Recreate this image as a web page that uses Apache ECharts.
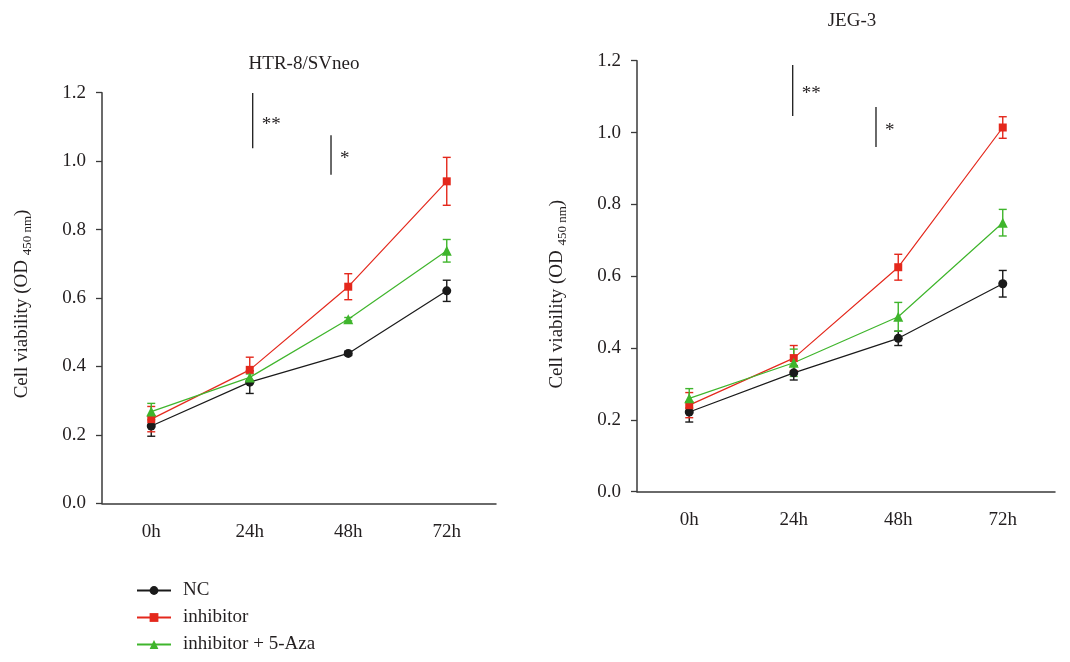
<!DOCTYPE html>
<html>
<head>
<meta charset="utf-8">
<script src="https://cdn.jsdelivr.net/npm/echarts@6/dist/echarts.min.js"></script>
<style>
html,body{margin:0;padding:0;background:#fff;}
#chart{width:1070px;height:662px;}
</style>
</head>
<body>
<div id="chart"></div>
<script>
// ---- data ----
const categories = ['0h', '24h', '48h', '72h'];
const seriesNames = ['NC', 'inhibitor', 'inhibitor + 5-Aza'];

const htrNC = [0.226, 0.354, 0.438, 0.621];
const htrNCErr = [0.030, 0.033, 0.006, 0.031];
const htrInh = [0.246, 0.390, 0.633, 0.941];
const htrInhErr = [0.037, 0.037, 0.038, 0.070];
const htrAza = [0.268, 0.368, 0.538, 0.738];
const htrAzaErr = [0.024, 0.010, 0.005, 0.033];

const jegNC = [0.222, 0.331, 0.427, 0.579];
const jegNCErr = [0.028, 0.020, 0.020, 0.037];
const jegInh = [0.241, 0.372, 0.625, 1.014];
const jegInhErr = [0.035, 0.035, 0.036, 0.030];
const jegAza = [0.260, 0.359, 0.487, 0.749];
const jegAzaErr = [0.027, 0.038, 0.040, 0.037];

// significance annotations: [x position (category units), top, bottom]
const htrSig = [[1.03, 1.199, 1.038], [1.825, 1.076, 0.960]];
const jegSig = [[0.99, 1.188, 1.046], [1.787, 1.071, 0.960]];
const sigLabels = ['**', '*'];

// ---- styling ----
const FONT = 'Liberation Serif';
const TXT = '#231f20';
const AX = '#3a3a3a';
const colors = ['#1a1a1a', '#e4281c', '#3fb52c'];
const symbols = ['circle', 'rect', 'triangle'];
const symSizes = [9, 8, 10];

const chart = echarts.init(document.getElementById('chart'));

function errData(vals, errs) {
  return vals.map((v, i) => [i, v - errs[i], v + errs[i]]);
}
function errorBarSeries(vals, errs, color, gi) {
  return {
    type: 'custom', xAxisIndex: gi, yAxisIndex: gi, z: 1, silent: true,
    data: errData(vals, errs),
    renderItem: function (params, api) {
      const x = api.value(0);
      const lo = api.coord([x, api.value(1)]);
      const hi = api.coord([x, api.value(2)]);
      const w = 4;
      const st = { stroke: color, lineWidth: 1.4 };
      return { type: 'group', children: [
        { type: 'line', shape: { x1: lo[0], y1: lo[1], x2: hi[0], y2: hi[1] }, style: st },
        { type: 'line', shape: { x1: lo[0] - w, y1: lo[1], x2: lo[0] + w, y2: lo[1] }, style: st },
        { type: 'line', shape: { x1: hi[0] - w, y1: hi[1], x2: hi[0] + w, y2: hi[1] }, style: st }
      ]};
    }
  };
}
function lineSeries(name, vals, idx, gi) {
  return {
    name: name, type: 'line', xAxisIndex: gi, yAxisIndex: gi, z: 3,
    data: vals, symbol: symbols[idx], symbolSize: symSizes[idx],
    lineStyle: { color: colors[idx], width: 1.2 },
    itemStyle: { color: colors[idx] },
    emphasis: { disabled: true }
  };
}
function sigSeries(sig, gi) {
  return {
    type: 'custom', xAxisIndex: gi + 2, yAxisIndex: gi, silent: true, z: 5,
    data: sig.map((s, i) => [s[0], s[1], s[2], i]),
    renderItem: function (params, api) {
      const top = api.coord([api.value(0), api.value(1)]);
      const bot = api.coord([api.value(0), api.value(2)]);
      return { type: 'group', children: [
        { type: 'line', shape: { x1: top[0], y1: top[1], x2: bot[0], y2: bot[1] }, style: { stroke: '#1a1a1a', lineWidth: 1.3 } },
        { type: 'text', style: { text: sigLabels[api.value(3)], x: top[0] + 9, y: (top[1] + bot[1]) / 2 + 4,
          fill: TXT, font: '19px "' + FONT + '"', verticalAlign: 'middle', align: 'left' } }
      ]};
    }
  };
}

function catAxis(gi) {
  return {
    type: 'category', gridIndex: gi, data: categories, boundaryGap: true,
    axisLine: { onZero: false, lineStyle: { color: AX, width: 1.5 } },
    axisTick: { alignWithLabel: true, length: 6, lineStyle: { color: AX, width: 1.3 } },
    axisLabel: { color: TXT, fontFamily: FONT, fontSize: 19, margin: 19 },
    splitLine: { show: false }
  };
}
function hiddenAxis(gi) {
  return { type: 'value', gridIndex: gi, min: -0.5, max: 3.5, show: false,
    axisLine: { onZero: false } };
}
function valAxis(gi, pad) {
  return {
    type: 'value', gridIndex: gi, min: 0, max: 1.2, interval: 0.2,
    axisLine: { show: true, onZero: false, lineStyle: { color: AX, width: 1.5 } },
    axisTick: { show: true, length: 6, lineStyle: { color: AX, width: 1.3 } },
    axisLabel: { color: TXT, fontFamily: FONT, fontSize: 19, margin: 16, formatter: v => v.toFixed(1) },
    splitLine: { show: false },
    name: '{a|Cell viability (OD }{b|450 nm}{a|)}',
    nameLocation: 'middle', nameGap: 68,
    nameTextStyle: {
      padding: pad,
      rich: {
        a: { fontFamily: FONT, fontSize: 19, color: TXT, lineHeight: 24 },
        b: { fontFamily: FONT, fontSize: 13, color: TXT, verticalAlign: 'bottom', lineHeight: 24 }
      }
    }
  };
}

const option = {
  animation: false,
  backgroundColor: '#ffffff',
  title: [
    { text: 'HTR-8/SVneo', left: 299, top: 50, textAlign: 'center',
      textStyle: { fontFamily: FONT, fontSize: 19, fontWeight: 'normal', color: TXT } },
    { text: 'JEG-3', left: 847, top: 7, textAlign: 'center',
      textStyle: { fontFamily: FONT, fontSize: 19, fontWeight: 'normal', color: TXT } }
  ],
  legend: {
    orient: 'vertical', left: 136, top: 581, height: 120, padding: 0,
    data: seriesNames,
    itemWidth: 34, itemHeight: 11, itemGap: 8,
    textStyle: { fontFamily: FONT, fontSize: 19, color: TXT, padding: [0, 0, 0, 7] },
    selectedMode: false
  },
  grid: [
    { left: 102, top: 92.7, width: 394, height: 410.6 },
    { left: 637, top: 60.7, width: 418, height: 431 }
  ],
  xAxis: [catAxis(0), catAxis(1), hiddenAxis(0), hiddenAxis(1)],
  yAxis: [valAxis(0, [0, 12, 0, 0]), valAxis(1, [0, 36, 0, 0])],
  series: [
    errorBarSeries(htrNC, htrNCErr, colors[0], 0),
    errorBarSeries(htrInh, htrInhErr, colors[1], 0),
    errorBarSeries(htrAza, htrAzaErr, colors[2], 0),
    lineSeries(seriesNames[0], htrNC, 0, 0),
    lineSeries(seriesNames[1], htrInh, 1, 0),
    lineSeries(seriesNames[2], htrAza, 2, 0),
    errorBarSeries(jegNC, jegNCErr, colors[0], 1),
    errorBarSeries(jegInh, jegInhErr, colors[1], 1),
    errorBarSeries(jegAza, jegAzaErr, colors[2], 1),
    lineSeries(seriesNames[0], jegNC, 0, 1),
    lineSeries(seriesNames[1], jegInh, 1, 1),
    lineSeries(seriesNames[2], jegAza, 2, 1),
    sigSeries(htrSig, 0),
    sigSeries(jegSig, 1)
  ]
};
chart.setOption(option);
</script>
</body>
</html>
